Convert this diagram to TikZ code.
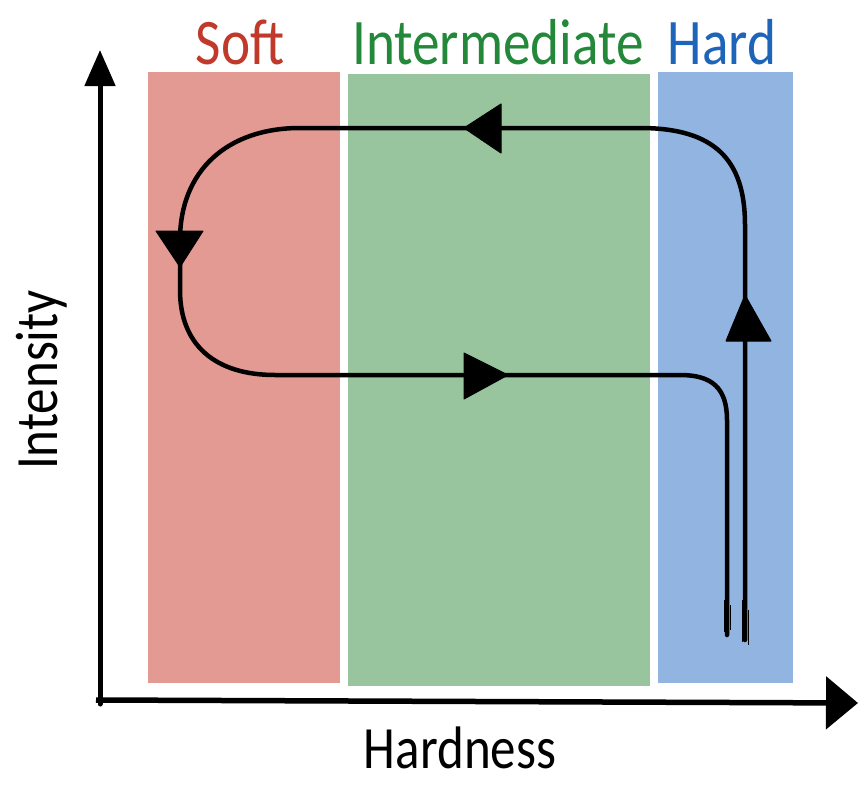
\documentclass[tikz,border=0pt]{standalone}
\usepackage{fontspec}
\setmainfont{Carlito}
\usetikzlibrary{arrows.meta}
\definecolor{softfill}{HTML}{E39A93}
\definecolor{midfill}{HTML}{98C59D}
\definecolor{hardfill}{HTML}{92B4E0}
\definecolor{softtxt}{HTML}{C0392B}
\definecolor{midtxt}{HTML}{23883A}
\definecolor{hardtxt}{HTML}{1E64B8}
\begin{document}
\begin{tikzpicture}[x=1pt,y=-1pt,
  head/.style={font=\fontsize{65}{70}\selectfont, inner sep=0pt},
  axlbl/.style={font=\fontsize{60}{64}\selectfont, inner sep=0pt, text=black},
  axisline/.style={line width=5pt, black, -{Triangle[length=36pt,width=30pt]}},
  loopline/.style={line width=4.5pt, black, line cap=round, line join=round},
  tip/.style={fill=black, draw=black, line width=1pt, line join=round}
]
\useasboundingbox (0,0) rectangle (860,787);

% bands
\fill[softfill] (148,72) rectangle (340,683);
\fill[midfill] (348,74) rectangle (650,686);
\fill[hardfill] (658,72) rectangle (793,683);

% headings
\node[head, text=softtxt] (soft) at (240,42) {\scalebox{0.85}[1]{Soft}};
\node[head, text=midtxt] (mid) at (498,42) {\scalebox{0.85}[1]{Intermediate}};
\node[head, text=hardtxt] (hard) at (722,42) {\scalebox{0.85}[1]{Hard}};

% axes
\coordinate (origin) at (100,700);
\coordinate (ytop) at (100,50);
\coordinate (xend) at (858,703);
\draw[axisline, line cap=round] (100,704) -- (ytop);
\draw[line width=5.5pt, black, -{Triangle[length=32pt,width=52pt]}] (96,700) -- (xend);

\node[axlbl, rotate=90] (intensity) at (42,380) {\scalebox{0.85}[1]{Intensity}};
\node[axlbl] (hardness) at (460,748) {\scalebox{0.85}[1]{Hardness}};

% loop
\draw[loopline] (745,640) -- (745,225)
  .. controls (745,160) and (715,128) .. (640,128)
  -- (300,128)
  .. controls (228,128) and (180,170) .. (180,240)
  -- (180,290)
  .. controls (180,345) and (215,375) .. (275,375)
  -- (680,375)
  .. controls (712,375) and (727,388) .. (727,420)
  -- (727,635);
\draw[black, line width=1pt] (742,600) -- (742,642) (748,610) -- (748,645) (724,600) -- (724,632) (730,605) -- (730,630);

% arrow heads
\filldraw[tip] (745,295) -- (726,341) -- (771,341) -- cycle;
\filldraw[tip] (464,128) -- (501,104) -- (501,153) -- cycle;
\filldraw[tip] (180,267) -- (156,231) -- (203,231) -- cycle;
\filldraw[tip] (508,375) -- (464,353) -- (464,399) -- cycle;
\end{tikzpicture}
\end{document}
